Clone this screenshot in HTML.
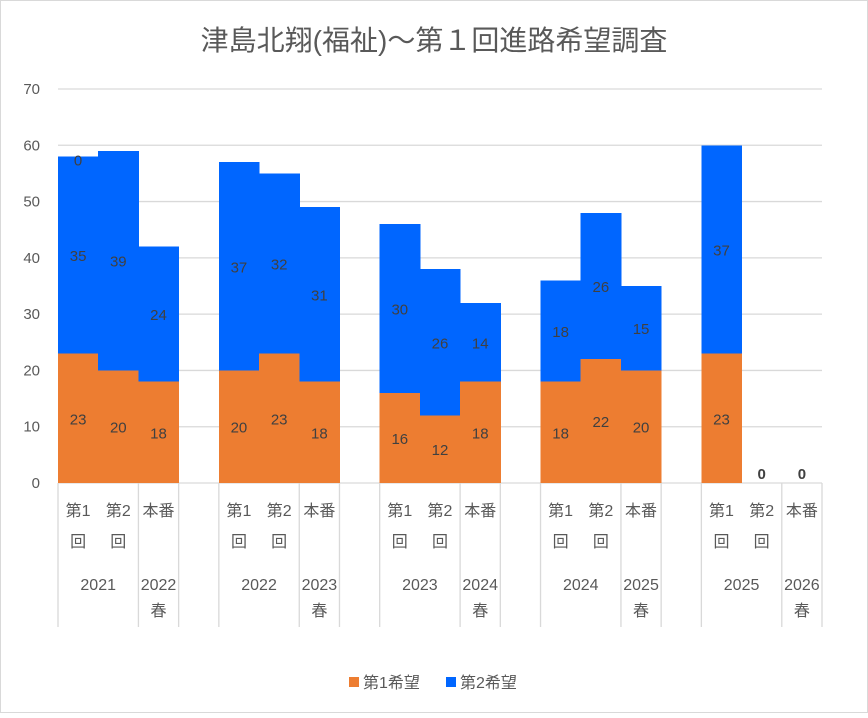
<!DOCTYPE html>
<html><head><meta charset="utf-8">
<style>
body{margin:0;background:#fff;}
svg text{font-family:"Liberation Sans","Noto Sans CJK JP",sans-serif;}
</style></head>
<body>
<svg id="chart" width="868" height="713" viewBox="0 0 868 713" xmlns="http://www.w3.org/2000/svg">
<rect x="0.5" y="0.5" width="867" height="712" fill="#fff" stroke="#d9d9d9"/>
<text x="434" y="50" text-anchor="middle" font-size="28" fill="#595959">津島北翔(福祉)～第１回進路希望調査</text>
<g id="grid"></g><g id="bars" shape-rendering="crispEdges"></g><g id="labels"></g><g id="axis"></g>
<g>
<rect x="349" y="677" width="10" height="10" fill="#ED7D31"/>
<text x="363" y="688" font-size="16" fill="#595959">第1希望</text>
<rect x="446" y="677" width="10" height="10" fill="#0066FF"/>
<text x="460" y="688" font-size="16" fill="#595959">第2希望</text>
</g>
</svg>
<script>
const first = [23,20,18, null, 20,23,18, null, 16,12,18, null, 18,22,20, null, 23,0,0];
const second = [35,39,24, null, 37,32,31, null, 30,26,14, null, 18,26,15, null, 37,0,0];
const sub1 = ["第1","第2","本番",null,"第1","第2","本番",null,"第1","第2","本番",null,"第1","第2","本番",null,"第1","第2","本番"];
const yearLabels = ["2021","2022春","2022","2023春","2023","2024春","2024","2025春","2025","2026春"];
const yTicks = [0,10,20,30,40,50,60,70];

const NS="http://www.w3.org/2000/svg";
const x0=58,x1=822,yb=483,yt=89,slot=(x1-x0)/first.length;
const Y=v=>yb-(v/70)*(yb-yt);
const X=i=>x0+i*slot;
function mk(tag,attrs,parent,txt){const e=document.createElementNS(NS,tag);for(const k in attrs)e.setAttribute(k,attrs[k]);if(txt!=null)e.textContent=txt;document.getElementById(parent).appendChild(e);return e;}
yTicks.forEach(t=>{
  const l=mk('line',{x1:x0,x2:x1,y1:Y(t),y2:Y(t),stroke:'#d9d9d9','stroke-width':1.3},'grid');
  
  
  const tx=mk('text',{x:40,y:Y(t)+5,'text-anchor':'end','font-size':15,fill:'#595959'},'axis',t);
  
  
});
first.forEach((v,i)=>{
  if(v==null)return;
  const s=second[i];
  const r1=mk('rect',{x:X(i),y:Y(v),width:slot+0.5,height:yb-Y(v),fill:'#ED7D31'},'bars');
  
  
  const r2=mk('rect',{x:X(i),y:Y(v+s),width:slot+0.5,height:Y(v)-Y(v+s),fill:'#0066FF'},'bars');
  
  
  const cx=X(i)+slot/2;
  if(v+s>0){
    const a=mk('text',{x:cx,y:(Y(0)+Y(v))/2+6,'text-anchor':'middle','font-size':15,fill:'#404040'},'labels',v);
    
    
    const b=mk('text',{x:cx,y:(Y(v)+Y(v+s))/2+6,'text-anchor':'middle','font-size':15,fill:'#404040'},'labels',s);
    
    
  } else {
    const z=mk('text',{x:cx,y:yb-4,'text-anchor':'middle','font-size':15,'font-weight':'bold',fill:'#404040'},'labels','0');
    
    
  }
  const sl=mk('text',{x:cx,y:516,'text-anchor':'middle','font-size':16,fill:'#595959'},'axis',sub1[i]);
  
  
  if(sub1[i]!=='本番'){
    const k=mk('text',{x:cx,y:547,'text-anchor':'middle','font-size':16,fill:'#595959'},'axis','回');
    
    
  }
});
const tz=mk('text',{x:X(0)+slot/2,y:Y(first[0]+second[0])+9,'text-anchor':'middle','font-size':15,fill:'#404040'},'labels','0');


for(let g=0;g<5;g++){
  const base=g*4;
  const ya=mk('text',{x:X(base+1),y:590,'text-anchor':'middle','font-size':16,fill:'#595959'},'axis',yearLabels[g*2]);
  
  
  const lab=yearLabels[g*2+1];
  const yb1=mk('text',{x:X(base+2)+slot/2,y:590,'text-anchor':'middle','font-size':16,fill:'#595959'},'axis',lab.slice(0,4));
  
  
  const yb2=mk('text',{x:X(base+2)+slot/2,y:616,'text-anchor':'middle','font-size':16,fill:'#595959'},'axis',lab.slice(4));
  
  
}
for(let i=0;i<=first.length;i++){
  if(i%4===1)continue;
  const l=mk('line',{x1:X(i),x2:X(i),y1:yb,y2:627,stroke:'#d9d9d9','stroke-width':1.3},'axis');
  
  
}
</script>
</body></html>
